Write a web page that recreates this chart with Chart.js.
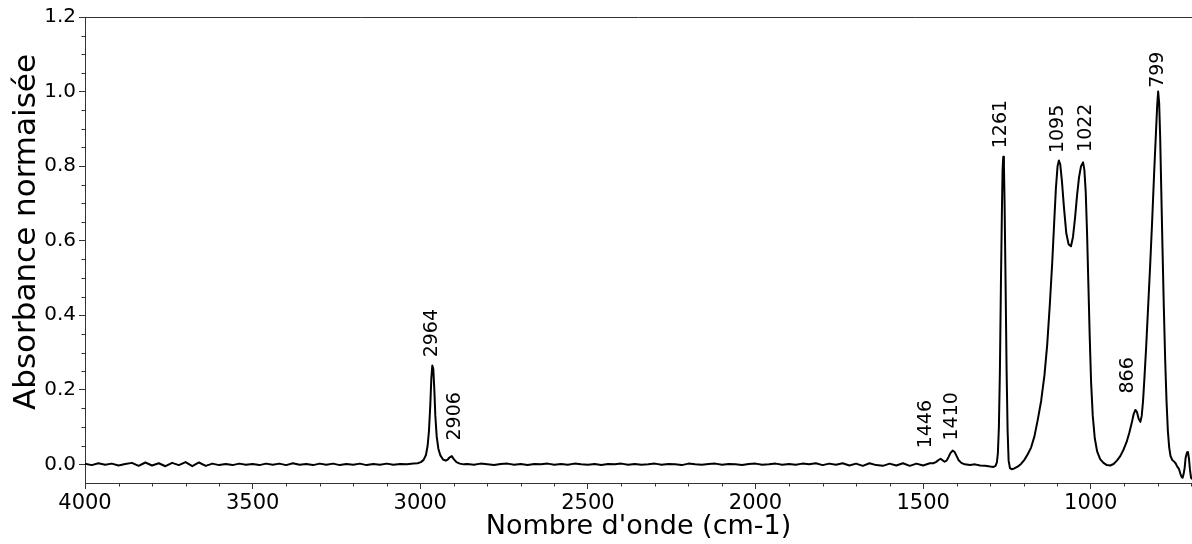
<!DOCTYPE html>
<html><head><meta charset="utf-8">
<script src="https://cdn.jsdelivr.net/npm/chart.js@4.4.1/dist/chart.umd.min.js"></script>
<style>html,body{margin:0;padding:0;background:#fff;overflow:hidden}#wrap{width:1192px;height:544px}</style>
</head><body><div id="wrap"><canvas id="c" width="1192" height="544"></canvas></div>
<script>
const wavenumbers = [
 4000,3980,3960,3940,3920,3900,3880,3860,3840,3820,3800,3780,3760,3740,3720,3700,3680,3660,3640,3620,
 3600,3580,3560,3540,3520,3500,3480,3460,3440,3420,3400,3380,3360,3340,3320,3300,3280,3260,3240,3220,
 3200,3180,3160,3140,3120,3100,3080,3060,3040,3020,
 3008,2998,2990,2983,2978,2974,2970,2967,2964,2961,2958,2955,2951,2946,2940,2932,2924,2918,2912,2906,2900,2892,2882,2870,
 2860,2840,2820,2800,2780,2760,2740,2720,2700,2680,2660,2640,2620,2600,2580,2560,2540,2520,2500,2480,
 2460,2440,2420,2400,2380,2360,2340,2320,2300,2280,2260,2240,2220,2200,2180,2160,2140,2120,2100,2080,
 2060,2040,2020,2000,1980,1960,1940,1920,1900,1880,1860,1840,1820,1800,1780,1760,1740,1720,1700,1680,
 1660,1640,1620,1600,1580,1560,1540,1520,1500,1480,
 1470,1462,1455,1448,1442,1436,1430,1424,1418,1412,1406,1400,1394,1386,1376,1360,1345,1330,1315,1300,
 1290,1284,1280,1277,1274,1271,1268,1265,1263,1261,1259,1257,1254,1251,1248,1245,1241,1236,1228,1218,
 1208,1198,1188,1178,1168,1158,1148,1138,1130,1122,1115,1109,1104,1099,1095,1091,1086,1080,1073,1066,
 1059,1053,1047,1041,1035,1029,1023,1019,1015,1011,1007,1003,999,994,988,981,972,962,952,942,
 932,922,912,902,893,885,878,872,867,862,857,852,848,844,840,835,829,823,817,811,
 806,802,799,796,793,790,786,782,778,774,770,766,762,757,752,747,742,737,733,729,
 726,723,720,717,713,710,707,704,701,698
];
const absorbance = [
 0.002,-0.002,0.003,-0.001,0.002,-0.003,0.001,0.004,-0.004,0.005,-0.003,0.003,-0.005,0.004,-0.002,0.006,-0.005,0.005,-0.004,0.002,
 -0.002,0.001,-0.002,0.002,-0.001,0.001,-0.002,0.002,-0.001,0.002,-0.002,0.003,-0.001,0.001,-0.002,0.002,-0.001,0.002,-0.002,0.001,
 -0.001,0.002,-0.002,0.001,-0.001,0.002,-0.001,0.001,0.000,0.002,
 0.003,0.006,0.012,0.025,0.05,0.09,0.16,0.23,0.265,0.255,0.2,0.13,0.075,0.042,0.024,0.013,0.01,0.013,0.019,0.022,0.014,0.006,0.002,0.000,
 0.001,-0.001,0.002,0.000,-0.002,0.001,0.002,-0.001,0.001,-0.002,0.001,0.000,0.002,-0.001,0.001,-0.001,0.002,0.000,-0.001,0.001,
 -0.002,0.001,0.000,0.002,-0.001,0.001,-0.001,0.000,0.002,-0.001,0.001,0.000,-0.002,0.002,0.000,-0.001,0.001,0.002,-0.001,0.001,
 0.000,-0.002,0.001,0.002,-0.001,0.000,0.002,-0.001,0.001,-0.001,0.002,0.000,0.003,-0.002,0.002,-0.001,0.003,-0.003,0.002,-0.004,
 0.003,-0.002,-0.004,0.002,-0.003,0.003,-0.004,0.002,-0.003,0.003,
 0.003,0.006,0.011,0.015,0.011,0.007,0.01,0.02,0.031,0.037,0.033,0.022,0.011,0.004,0.000,-0.002,0.000,-0.003,-0.004,-0.006,
 -0.007,-0.004,0.005,0.03,0.1,0.25,0.48,0.68,0.79,0.825,0.8,0.7,0.48,0.25,0.09,0.01,-0.01,-0.013,-0.011,-0.006,
 0.001,0.012,0.027,0.045,0.075,0.12,0.17,0.24,0.32,0.43,0.54,0.65,0.74,0.8,0.815,0.805,0.76,0.69,0.62,0.59,
 0.585,0.61,0.66,0.72,0.77,0.8,0.81,0.79,0.73,0.62,0.48,0.34,0.22,0.13,0.07,0.035,0.014,0.004,-0.002,-0.003,
 0.001,0.01,0.022,0.04,0.06,0.085,0.11,0.135,0.146,0.14,0.122,0.114,0.13,0.17,0.23,0.31,0.42,0.53,0.65,0.78,
 0.88,0.96,1.0,0.97,0.88,0.75,0.58,0.42,0.28,0.17,0.09,0.045,0.022,0.012,0.008,0.003,-0.006,-0.012,-0.024,-0.034,
 -0.036,-0.026,-0.01,0.018,0.032,0.033,0.015,-0.015,-0.035,-0.04
];
const xTickValues = [4000,3500,3000,2500,2000,1500,1000];
const yTickValues = [0.0,0.2,0.4,0.6,0.8,1.0,1.2];
const peakLabels = ['2964','2906','1446','1410','1261','1095','1022','866','799'];
const peakLabelX = [2965,2896,1491,1413,1267,1097,1014,888,799];
const peakLabelY = [0.287,0.064,0.043,0.064,0.848,0.835,0.838,0.19,1.01];
const yTitle = 'Absorbance normaisée';

const FONT = '"DejaVu Sans", sans-serif';

const annot = {
  id: 'annot',
  afterDraw(chart) {
    const {ctx, chartArea: a, scales: {x, y}} = chart;
    ctx.save();
    ctx.strokeStyle = '#333';
    ctx.lineWidth = 1;
    ctx.beginPath();
    ctx.moveTo(a.left, a.top + 0.5);
    ctx.lineTo(a.right, a.top + 0.5);
    ctx.stroke();
    ctx.beginPath();
    for (let v = 3900; v >= x.min; v -= 100) {
      if (v % 500 === 0) continue;
      const px = Math.round(x.getPixelForValue(v)) + 0.5;
      ctx.moveTo(px, a.bottom);
      ctx.lineTo(px, a.bottom + 3.5);
    }
    for (let i = 0; i <= 24; i++) {
      if (i % 4 === 0) continue;
      const v = i * 0.05;
      const py = Math.round(y.getPixelForValue(v)) + 0.5;
      ctx.moveTo(a.left, py);
      ctx.lineTo(a.left - 3.5, py);
    }
    ctx.stroke();
    ctx.fillStyle = '#000';
    ctx.font = '19px ' + FONT;
    ctx.textAlign = 'left';
    ctx.textBaseline = 'middle';
    peakLabels.forEach((t, i) => {
      const px = x.getPixelForValue(peakLabelX[i]);
      const py = y.getPixelForValue(peakLabelY[i]);
      ctx.save();
      ctx.translate(px, py);
      ctx.rotate(-Math.PI / 2);
      ctx.fillText(t, 0, 0);
      ctx.restore();
    });
    // y axis title
    ctx.font = '31px ' + FONT;
    ctx.textAlign = 'center';
    ctx.textBaseline = 'alphabetic';
    ctx.save();
    ctx.translate(35, 232);
    ctx.rotate(-Math.PI / 2);
    ctx.fillText(yTitle, 0, 0);
    ctx.restore();
    ctx.restore();
  }
};

new Chart(document.getElementById('c'), {
  type: 'line',
  data: {
    datasets: [{
      data: wavenumbers.map((w, i) => ({x: w, y: absorbance[i]})),
      borderColor: '#000',
      borderWidth: 2,
      pointRadius: 0,
      fill: false,
      tension: 0,
      borderJoinStyle: 'round'
    }]
  },
  options: {
    responsive: false,
    animation: false,
    devicePixelRatio: 1,
    layout: {padding: {top: 17, right: 0, left: 0, bottom: 0}},
    plugins: {legend: {display: false}, tooltip: {enabled: false}},
    scales: {
      x: {
        type: 'linear', reverse: true, min: 698, max: 4000,
        afterBuildTicks(s) { s.ticks = xTickValues.map(v => ({value: v})); },
        afterFit(s) { s.height = 61; },
        grid: {drawOnChartArea: false, drawTicks: true, tickLength: 6, color: '#333'},
        border: {display: true, color: '#333', width: 1},
        ticks: {color: '#000', font: {family: FONT, size: 21}, padding: 2, maxRotation: 0, autoSkip: false,
          callback: v => String(v)},
        title: {display: true, text: "Nombre d'onde (cm-1)", color: '#000', font: {family: FONT, size: 27, lineHeight: 1.0}, padding: {top: 0, bottom: 4}}
      },
      y: {
        type: 'linear', min: -0.05, max: 1.2,
        afterBuildTicks(s) { s.ticks = yTickValues.map(v => ({value: v})); },
        afterFit(s) { s.width = 85; },
        grid: {drawOnChartArea: false, drawTicks: true, tickLength: 6, color: '#333'},
        border: {display: true, color: '#333', width: 1},
        ticks: {color: '#000', font: {family: FONT, size: 20}, padding: 3, autoSkip: false,
          callback: v => Number(v).toFixed(1)},
        title: {display: false}
      }
    }
  },
  plugins: [annot]
});
</script>
</body></html>
